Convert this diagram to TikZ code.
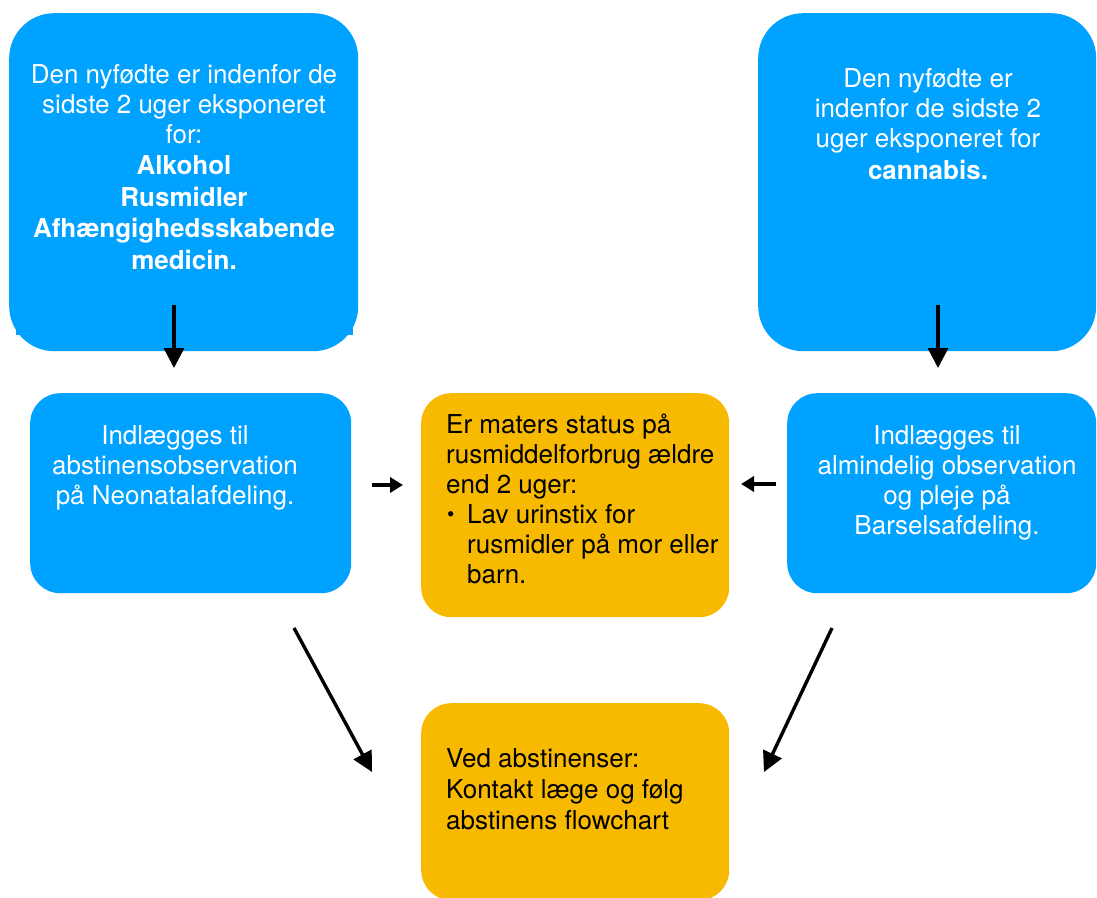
\documentclass[tikz,border=0pt]{standalone}
\usepackage{fontspec}
\setmainfont{TeX Gyre Heros}
\usetikzlibrary{arrows.meta}
\definecolor{kblue}{RGB}{0,162,255}
\definecolor{kyellow}{RGB}{248,186,0}
\begin{document}
\begin{tikzpicture}[x=1pt,y=-1pt,
  bigbox/.style={fill=kblue, draw=none, rounded corners=45pt, inner sep=0pt, anchor=north west},
  bluebox/.style={fill=kblue, draw=none, rounded corners=30pt, inner sep=0pt, anchor=north west},
  yellowbox/.style={fill=kyellow, draw=none, rounded corners=30pt, inner sep=0pt, anchor=north west},
  wtext/.style={text=white, font=\fontsize{26}{30}\selectfont, inner sep=0pt, align=center, anchor=north},
  ktext/.style={text=black, font=\fontsize{26}{30}\selectfont, inner sep=0pt, align=left, anchor=north west},
  bigarrow/.style={line width=3.4pt, -{Triangle[width=20pt,length=20pt]}},
  smallarrow/.style={line width=3.4pt, -{Triangle[width=15pt,length=13pt]}}
]
\useasboundingbox (0,0) rectangle (1097,897);
\clip (0,0) rectangle (1097,897);

% notch rectangle behind top-left box
\fill[kblue] (16,200) rectangle (353,335);

% boxes
\node[bigbox, minimum width=349pt, minimum height=338pt] (tl) at (9,13) {};
\node[bigbox, minimum width=338pt, minimum height=338pt] (tr) at (758,13) {};
\node[bluebox, minimum width=321pt, minimum height=200pt] (ml) at (30,393) {};
\node[yellowbox, minimum width=308pt, minimum height=224pt] (mm) at (421,393) {};
\node[bluebox, minimum width=309pt, minimum height=200pt] (mr) at (787,393) {};
\node[yellowbox, minimum width=308pt, minimum height=197pt] (bm) at (421,703) {};

% texts
\node[wtext] (tlt) at (184,62) {\strut Den nyfødte er indenfor de\\ sidste 2 uger eksponeret\\ for:\\[1.5pt] \textbf{Alkohol}\\[1.5pt] \textbf{Rusmidler}\\[1.5pt] \textbf{Afhængighedsskabende}\\[1.5pt] \textbf{medicin.}};
\node[wtext] (trt) at (928,66) {\strut Den nyfødte er\\ indenfor de sidste 2\\ uger eksponeret for\\[2pt] \textbf{cannabis.}};
\node[wtext] (mlt) at (175,423) {\strut Indlægges til\\ abstinensobservation\\ på Neonatalafdeling.};
\node[wtext] (mrt) at (947,423) {\strut Indlægges til\\ almindelig observation\\ og pleje på\\ Barselsafdeling.};
\node[ktext] (mmt) at (446,412) {\strut Er maters status på\\ rusmiddelforbrug ældre\\ end 2 uger:\\ \makebox[21pt][l]{\hspace{1pt}\raisebox{1.5pt}{\fontsize{21}{30}\selectfont •}}Lav urinstix for\\ \hspace{21pt}rusmidler på mor eller\\ \hspace{21pt}barn.};
\node[ktext] (bmt) at (446,746) {\strut Ved abstinenser:\\[1pt] Kontakt læge og følg\\[1pt] abstinens flowchart};

% arrow end points
\coordinate (a1s) at (174,305);
\coordinate (a1e) at (174,368);
\coordinate (a2s) at (938,305);
\coordinate (a2e) at (938,368);
\coordinate (a3s) at (372,485);
\coordinate (a3e) at (403,485);
\coordinate (a4s) at (776,484);
\coordinate (a4e) at (741,484);
\coordinate (a5s) at (294,628);
\coordinate (a5e) at (372,772);
\coordinate (a6s) at (832,628);
\coordinate (a6e) at (764,772);

\draw[bigarrow] (a1s) -- (a1e);
\draw[bigarrow] (a2s) -- (a2e);
\draw[smallarrow] (a3s) -- (a3e);
\draw[smallarrow] (a4s) -- (a4e);
\draw[bigarrow] (a5s) -- (a5e);
\draw[bigarrow] (a6s) -- (a6e);
\end{tikzpicture}
\end{document}
